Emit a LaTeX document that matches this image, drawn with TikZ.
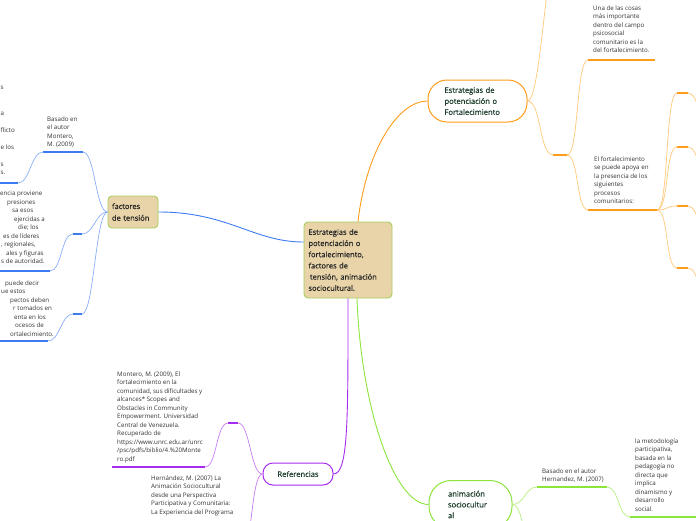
\documentclass[tikz,border=0pt]{standalone}
\usepackage{fontspec}
\setmainfont{Open Sans}
\newfontfamily\topicfont{Open Sans}[FakeBold=0.6]
\usetikzlibrary{positioning}
\definecolor{blueln}{HTML}{3D7BF2}
\definecolor{bluelt}{HTML}{8AAEF7}
\definecolor{orangeln}{HTML}{FF9C1A}
\definecolor{orangelt}{HTML}{FFC878}
\definecolor{greenln}{HTML}{8CE43C}
\definecolor{greenlt}{HTML}{B4EE80}
\definecolor{purpleln}{HTML}{A62CF0}
\definecolor{purplelt}{HTML}{C67CF5}
\definecolor{tanfill}{HTML}{E8D4A8}
\definecolor{tanedge}{HTML}{A6CE5E}
\definecolor{topictext}{HTML}{1E3F2E}
\definecolor{notetext}{HTML}{333333}

\begin{document}
\begin{tikzpicture}[x=1pt,y=-1pt,
  topic/.style={draw=tanedge,fill=tanfill,rounded corners=4pt,line width=0.9pt,align=left,text=black!85,font=\topicfont\fontsize{7.5}{11.2}\selectfont},
  pill/.style={fill=white,line width=1pt,align=left,text=topictext,font=\topicfont\fontsize{7.6}{11}\selectfont},
  note/.style={anchor=north west,inner sep=0pt,align=left,text=notetext,font=\fontsize{6.2}{8.5}\selectfont},
  conn/.style={line width=0.9pt},
  twig/.style={line width=0.7pt},
  uline/.style={line width=2.2pt}]
\useasboundingbox (0,0) rectangle (696,520);
\clip (0,0) rectangle (696,520);

% main topics
\node[topic,minimum width=88pt,minimum height=76pt,text width=79pt,inner xsep=4.5pt] (cen) at (348,260)
  {Estrategias de\\potenciación o\\fortalecimiento,\\factores de\\\hspace{1.5pt}tensión, animación\\sociocultural.};
\node[topic,minimum width=50pt,minimum height=32pt,text width=42pt,inner xsep=4pt,font=\topicfont\fontsize{7.5}{11.7}\selectfont] (fac) at (133,212)
  {factores\\de tensión};
\node[pill,draw=orangeln,rounded corners=19pt,minimum width=99pt,minimum height=42pt,text width=66pt,inner xsep=16.5pt] (pot) at (477.5,101)
  {Estrategias de\\potenciación o\\Fortalecimiento};
\node[pill,draw=purpleln,rounded corners=10pt,minimum width=70pt,minimum height=22pt] (ref) at (298,474) {Referencias};
\node[pill,draw=greenln,rounded corners=22pt,minimum width=83pt,minimum height=48pt,text width=45pt,inner xsep=19pt,font=\topicfont\fontsize{7.6}{10.8}\selectfont] (ani) at (470.5,504.5)
  {animación\\sociocultur\\al};

% branches from the centre
\draw[conn,blueln] (fac.east) .. controls +(70,0) and +(-50,0) .. ([yshift=18pt]cen.west);
\draw[conn,orangeln] ([xshift=10pt]cen.north) .. controls +(8,-70) and +(-30,0) .. (pot.west);
\draw[conn,purpleln] (cen.south) .. controls +(0,120) and +(15,0) .. (ref.east);
\draw[conn,greenln] ([xshift=9pt]cen.south) .. controls +(4,110) and +(-34,0) .. (ani.west);

% factores de tension
\coordinate (b1a) at (43,152); \coordinate (b1b) at (83,152);
\coordinate (l1a) at (-5,183); \coordinate (l1b) at (18,183);
\coordinate (b2a) at (73,234); \coordinate (b2b) at (82,234);
\coordinate (l2a) at (-5,271); \coordinate (l2b) at (50,271);
\coordinate (b3a) at (73,314); \coordinate (b3b) at (82,314);
\coordinate (l3a) at (-5,341); \coordinate (l3b) at (48,341);
\draw[twig,bluelt] (fac.west) .. controls +(-12,0) and +(12,0) .. (b1b);
\draw[twig,bluelt] (fac.west) .. controls +(-12,0) and +(12,0) .. (b2b);
\draw[twig,bluelt] (fac.west) .. controls +(-12,0) and +(12,0) .. (b3b);
\draw[twig,bluelt] (b1a) .. controls +(-12,0) and +(12,0) .. (l1b);
\draw[twig,bluelt] (b2a) .. controls +(-12,0) and +(12,0) .. (l2b);
\draw[twig,bluelt] (b3a) .. controls +(-12,0) and +(12,0) .. (l3b);
\draw[uline,blueln] (b1a) -- (b1b); \draw[uline,blueln] (l1a) -- (l1b);
\draw[uline,blueln] (b2a) -- (b2b); \draw[uline,blueln] (l2a) -- (l2b);
\draw[uline,blueln] (b3a) -- (b3b); \draw[uline,blueln] (l3a) -- (l3b);
\node[note] (montero1) at (47,116.2) {Basado en\\el autor\\Montero,\\M. (2009)};
\node[note] (cut1) at (0.5,86.2) {s\\\mbox{}\\\mbox{}\\a\\\mbox{}\\flicto\\\mbox{}\\e los\\\mbox{}\\s\\s.};
\node[note] (cut2) at (0,191.2) {encia proviene\\\hspace{7pt}presiones\\\hspace{12pt}sa esos\\\hspace{14pt}ejercidas a\\\hspace{18pt}die; los\\\hspace{3pt}es de líderes\\\hspace{1pt}, regionales,\\\hspace{6pt}ales y figuras\\\hspace{1pt}s de autoridad.};
\node[note] (cut3) at (0,280.2) {\hspace{5pt}puede decir\\\hspace{1pt}ue estos\\\hspace{10pt}pectos deben\\\hspace{13pt}r tomados en\\\hspace{14pt}enta en los\\\hspace{15pt}ocesos de\\\hspace{10pt}ortalecimiento.};

% potenciacion
\coordinate (otop) at (560,-60);
\coordinate (d1a) at (553,155); \coordinate (d1b) at (567,155);
\coordinate (u1a) at (588,60);  \coordinate (u1b) at (655,60);
\coordinate (u2a) at (588,210); \coordinate (u2b) at (657,210);
\draw[twig,orangelt] (pot.east) .. controls +(14,0) and +(-14,0) .. (otop);
\draw[twig,orangelt] (pot.east) .. controls +(14,0) and +(-14,0) .. (d1a);
\draw[twig,orangelt] (d1b) .. controls +(12,0) and +(-12,0) .. (u1a);
\draw[twig,orangelt] (d1b) .. controls +(12,0) and +(-12,0) .. (u2a);
\draw[uline,orangeln] (d1a) -- (d1b);
\draw[uline,orangeln] (u1a) -- (u1b);
\draw[uline,orangeln] (u2a) -- (u2b);
\node[note] (cosas) at (593,5.2) {Una de las cosas\\más importante\\dentro del campo\\psicosocial\\comunitario es la\\del fortalecimiento.};
\node[note] (apoya) at (594,156.2) {El fortalecimiento\\se puede apoya en\\la presencia de los\\siguientes\\procesos\\comunitarios:};
\coordinate (k1a) at (677,93);  \coordinate (k1b) at (688,93);  \coordinate (k1c) at (712,133);
\coordinate (k2a) at (677,147); \coordinate (k2b) at (688,147); \coordinate (k2c) at (712,187);
\coordinate (k3a) at (677,206); \coordinate (k3b) at (688,206); \coordinate (k3c) at (712,246);
\coordinate (k4a) at (677,268); \coordinate (k4b) at (688,268); \coordinate (k4c) at (712,308);
\draw[twig,orangelt] (u2b) .. controls +(12,0) and +(-12,0) .. (k1a);
\draw[twig,orangelt] (u2b) .. controls +(12,0) and +(-12,0) .. (k2a);
\draw[twig,orangelt] (u2b) .. controls +(12,0) and +(-12,0) .. (k3a);
\draw[twig,orangelt] (u2b) .. controls +(12,0) and +(-12,0) .. (k4a);
\draw[twig,orangelt] (k1b) .. controls +(12,0) and +(-12,0) .. (k1c);
\draw[twig,orangelt] (k2b) .. controls +(12,0) and +(-12,0) .. (k2c);
\draw[twig,orangelt] (k3b) .. controls +(12,0) and +(-12,0) .. (k3c);
\draw[twig,orangelt] (k4b) .. controls +(12,0) and +(-12,0) .. (k4c);
\draw[uline,orangeln] (k1a) -- (k1b); \draw[uline,orangeln] (k2a) -- (k2b);
\draw[uline,orangeln] (k3a) -- (k3b); \draw[uline,orangeln] (k4a) -- (k4b);

% referencias
\coordinate (e1a) at (228,423); \coordinate (e1b) at (238,423);
\coordinate (m1a) at (112,467); \coordinate (m1b) at (205,467);
\coordinate (hbot) at (240,560);
\draw[twig,purplelt] (ref.west) .. controls +(-12,0) and +(12,0) .. (e1b);
\draw[twig,purplelt] (ref.west) .. controls +(-12,0) and +(12,0) .. (hbot);
\draw[twig,purplelt] (e1a) .. controls +(-12,0) and +(12,0) .. (m1b);
\draw[uline,purpleln] (e1a) -- (e1b);
\draw[uline,purpleln] (m1a) -- (m1b);
\node[note] (montero2) at (117,371.2) {Montero, M. (2009), El\\fortalecimiento en la\\comunidad, sus dificultades y\\alcances* Scopes and\\Obstacles in Community\\Empowerment. Universidad\\Central de Venezuela.\\Recuperado de\\https://www.unrc.edu.ar/unrc\\/psc/pdfs/biblio/4.\%20Monte\\ro.pdf};
\node[note] (hernandez1) at (151,475.2) {Hernández, M. (2007) La\\Animación Sociocultural\\desde una Perspectiva\\Participativa y Comunitaria:\\La Experiencia del Programa};

% animacion sociocultural
\coordinate (g1a) at (537,487); \coordinate (g1b) at (607,487);
\coordinate (g2a) at (630,517); \coordinate (g2b) at (700,517);
\coordinate (gbot) at (537,560);
\draw[twig,greenlt] (ani.east) .. controls +(12,0) and +(-12,0) .. (g1a);
\draw[twig,greenlt] (ani.east) .. controls +(12,0) and +(-12,0) .. (gbot);
\draw[twig,greenlt] (g1b) .. controls +(12,0) and +(-12,0) .. (g2a);
\draw[uline,greenln] (g1a) -- (g1b);
\draw[uline,greenln] (g2a) -- (g2b);
\node[note] (hernandez2) at (542,468.2) {Basado en el autor\\Hernandez, M. (2007)};
\node[note] (metodo) at (635,438.2) {la metodología\\participativa,\\basada en la\\pedagogía no\\directa que\\implica\\dinamismo y\\desarrollo\\social.};
\end{tikzpicture}
\end{document}
